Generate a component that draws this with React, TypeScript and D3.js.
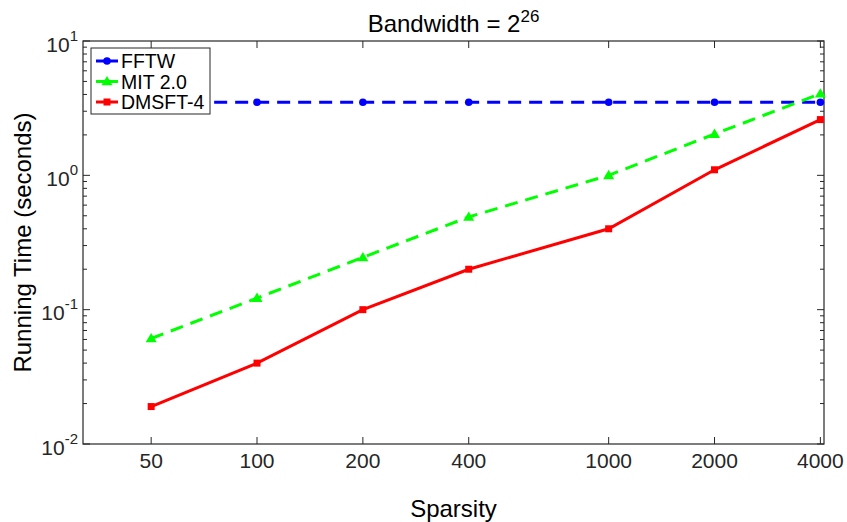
import React from "react";
import * as d3 from "d3";

const sparsity = [50, 100, 200, 400, 1000, 2000, 4000];
const fftw = [3.5, 3.5, 3.5, 3.5, 3.5, 3.5, 3.5];
const mit = [0.061, 0.122, 0.245, 0.49, 1.0, 2.03, 4.05];
const dmsft = [0.019, 0.04, 0.1, 0.2, 0.4, 1.1, 2.6];
const yTicks = [0.01, 0.1, 1, 10];
const yTickExp = ["-2", "-1", "0", "1"];

const series = [
  { name: "FFTW", values: fftw, color: "#0000ff", dash: "13,8", marker: "circle" },
  { name: "MIT 2.0", values: mit, color: "#00ff00", dash: "13,8", marker: "triangle" },
  { name: "DMSFT-4", values: dmsft, color: "#ff0000", dash: null, marker: "square" },
];

const W = 847;
const H = 522;
const margin = { top: 41, right: 23, bottom: 78, left: 83 };
const font = "'Liberation Sans', Arial, sans-serif";

const Marker = ({ type, x, y, color }: { type: string; x: number; y: number; color: string }) => {
  if (type === "circle") return <circle cx={x} cy={y} r={3.8} fill={color} />;
  if (type === "triangle") {
    const s = 5.5;
    return <path d={`M${x},${y - s}L${x + s},${y + s * 0.7}L${x - s},${y + s * 0.7}Z`} fill={color} />;
  }
  return <rect x={x - 3.5} y={y - 3.5} width={7} height={7} fill={color} />;
};

export default function App() {
  const innerW = W - margin.left - margin.right;
  const innerH = H - margin.top - margin.bottom;
  const x = d3.scaleLog().domain([32, 4096]).range([0, innerW]);
  const y = d3.scaleLog().domain([0.01, 10]).range([innerH, 0]);

  const line = (vals: number[]) =>
    d3.line<number>()
      .x((_, i) => x(sparsity[i]))
      .y((d) => y(d))(vals) as string;

  // minor log ticks 2..9 per decade
  const minor: number[] = [];
  for (let e = -2; e < 1; e++) for (let k = 2; k <= 9; k++) minor.push(k * Math.pow(10, e));

  const axisColor = "#262626";

  return (
    <svg width={W} height={H} style={{ position: "absolute", left: 0, top: 0, background: "#fff" }} fontFamily={font}>
      <text x={margin.left + innerW / 2} y={32} textAnchor="middle" fontSize={24} fill="#000">
        Bandwidth = 2<tspan dy={-10} fontSize={17}>26</tspan>
      </text>
      <g transform={`translate(${margin.left},${margin.top})`}>
        <rect x={0} y={0} width={innerW} height={innerH} fill="none" stroke={axisColor} strokeWidth={1.2} />
        {sparsity.map((s) => (
          <g key={s}>
            <line x1={x(s)} x2={x(s)} y1={innerH} y2={innerH - 7} stroke={axisColor} />
            <line x1={x(s)} x2={x(s)} y1={0} y2={7} stroke={axisColor} />
            <text x={x(s)} y={innerH + 24} textAnchor="middle" fontSize={21} fill="#262626">
              {s}
            </text>
          </g>
        ))}
        {yTicks.map((t, i) => (
          <g key={t}>
            <line x1={0} x2={7} y1={y(t)} y2={y(t)} stroke={axisColor} />
            <line x1={innerW} x2={innerW - 7} y1={y(t)} y2={y(t)} stroke={axisColor} />
            <text x={-5} y={y(t) + 10.5} textAnchor="end" fontSize={21} fill="#262626">
              10<tspan dy={-11} fontSize={15}>{yTickExp[i]}</tspan>
            </text>
          </g>
        ))}
        {minor.map((t) => (
          <g key={t}>
            <line x1={0} x2={4} y1={y(t)} y2={y(t)} stroke={axisColor} />
            <line x1={innerW} x2={innerW - 4} y1={y(t)} y2={y(t)} stroke={axisColor} />
          </g>
        ))}
        {series.map((s) => (
          <g key={s.name}>
            <path d={line(s.values)} fill="none" stroke={s.color} strokeWidth={3} strokeDasharray={s.dash || undefined} />
            {s.values.map((v, i) => (
              <Marker key={i} type={s.marker} x={x(sparsity[i])} y={y(v)} color={s.color} />
            ))}
          </g>
        ))}
        <g transform="translate(8,7)">
          <rect x={0} y={0} width={119} height={66} fill="#fff" stroke={axisColor} strokeWidth={1} />
          {series.map((s, i) => (
            <g key={s.name} transform={`translate(0,${13 + i * 20.5})`}>
              <line x1={5} x2={27} y1={0} y2={0} stroke={s.color} strokeWidth={3} />
              <Marker type={s.marker} x={16} y={0} color={s.color} />
              <text x={30} y={7} fontSize={19.5} fill="#000">
                {s.name}
              </text>
            </g>
          ))}
        </g>
      </g>
      <text x={margin.left + innerW / 2} y={517} textAnchor="middle" fontSize={24} fill="#000">
        Sparsity
      </text>
      <text transform={`translate(31,${margin.top + innerH / 2}) rotate(-90)`} textAnchor="middle" fontSize={24} fill="#000">
        Running Time (seconds)
      </text>
    </svg>
  );
}
